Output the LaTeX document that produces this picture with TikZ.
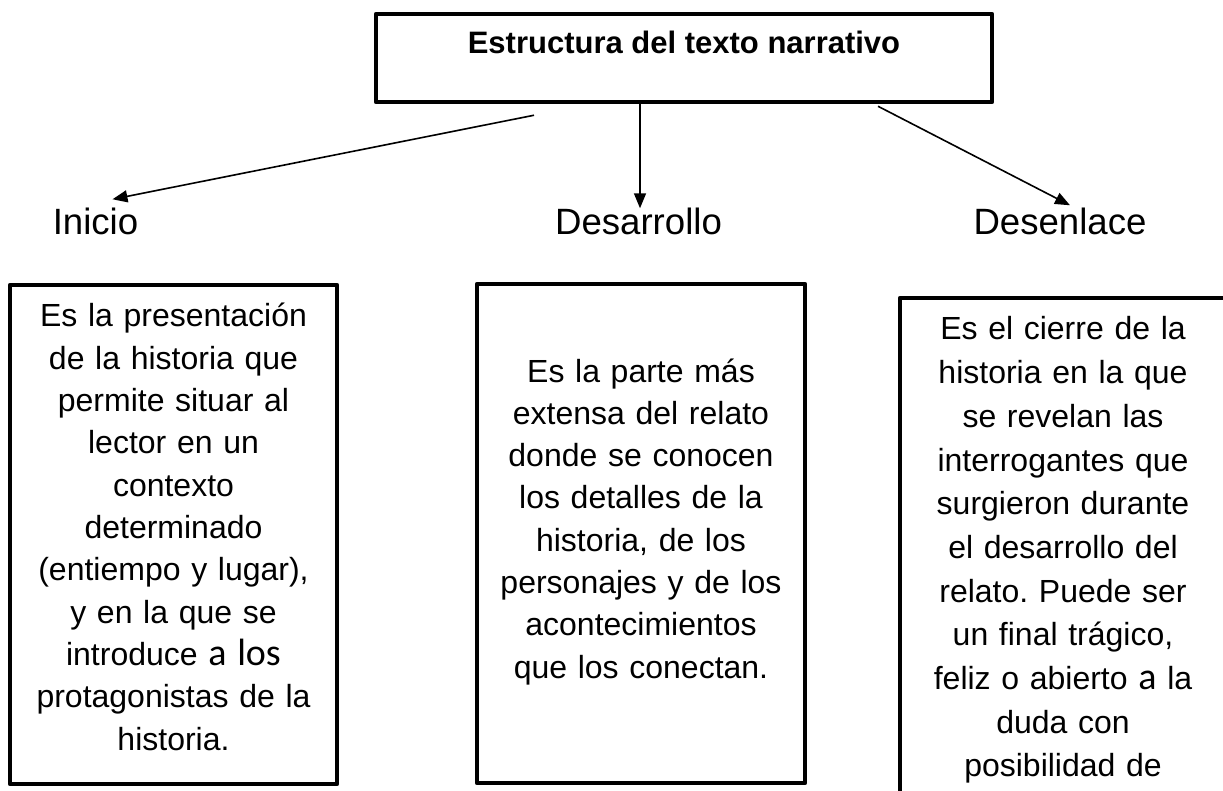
\documentclass[tikz,border=0pt]{standalone}
\usepackage{fontspec}
\setmainfont{Liberation Sans}
\newfontfamily\calibri{Carlito}
\usetikzlibrary{arrows.meta}
\frenchspacing

\begin{document}
\begin{tikzpicture}[x=1pt,y=1pt,>={Triangle[length=15pt,width=12pt]},
        caja/.style={draw,rectangle,line width=4.5pt,line join=round,inner sep=0pt},
        texto/.style={text width=320pt,align=center,inner sep=0pt,
            font=\fontsize{32}{42.3}\selectfont},
        rotulo/.style={inner sep=0pt,font=\fontsize{36.6}{44}\selectfont},
        flecha/.style={->,line width=1.6pt}]
    \useasboundingbox (0,0) rectangle (1223,-791);
    \clip (0,0) rectangle (1223,-791);
    % cuadro del titulo
    \node[caja,minimum width=616pt,inner ysep=18pt,text height=22pt,text depth=30pt,%
        font=\bfseries\fontsize{31}{37}\selectfont] (estructura) at (684,-58) {Estructura del texto narrativo};
    % partes
    \node[rotulo,anchor=base] (inicio) at (95.5,-235) {Inicio};
    \node[rotulo,anchor=base] (desarrollo) at (638.5,-235) {Desarrollo};
    \node[rotulo,anchor=base] (desenlace) at (1060,-235) {Desenlace};
    \draw[flecha] ([xshift=-150pt,yshift=-11pt]estructura.south) -- ([xshift=17pt,yshift=9pt]inicio.north);
    \draw[flecha] ([xshift=-44pt]estructura.south) -- ([xshift=-44pt]estructura.south |- desarrollo.north);
    \draw[flecha] ([xshift=194pt,yshift=-2pt]estructura.south) -- ([xshift=10pt,yshift=3pt]desenlace.north);
    % cuadros de texto
    \node[caja,minimum width=327pt,minimum height=499pt] (cajainicio) at (173.5,-534.5) {};
    \node[caja,minimum width=328pt,minimum height=499pt] (cajadesarrollo) at (641,-533.5) {};
    \node[caja,minimum width=326pt,minimum height=499pt] (cajadesenlace) at (1063,-547.5) {};
    \node[texto,anchor=base] (textoinicio) at (173.5,-327) {Es la presentación\\ de la historia que\\
        permite situar al\\ lector en un\\ contexto\\ determinado\\ (entiempo y lugar),\\
        y en la que se\\ introduce {\calibri\fontsize{38}{42.3}\selectfont a los}\\
        protagonistas de la\\ historia.};
    \node[texto,anchor=base] (textodesarrollo) at (641,-382) {Es la parte más\\ extensa del relato\\
        donde se conocen\\ los detalles de la\\ historia, de los\\ personajes y de los\\
        acontecimientos\\ que los conectan.};
    \node[texto,anchor=base,font=\fontsize{32}{43.7}\selectfont] (textodesenlace) at (1063,-340) {Es el cierre de la\\
        historia en la que\\ se revelan las\\ interrogantes que\\ surgieron durante\\
        el desarrollo del\\ relato. Puede ser\\ un final trágico,\\
        feliz o abierto {\calibri\fontsize{38}{43.7}\selectfont a} la\\ duda con\\ posibilidad de};
\end{tikzpicture}
\end{document}
